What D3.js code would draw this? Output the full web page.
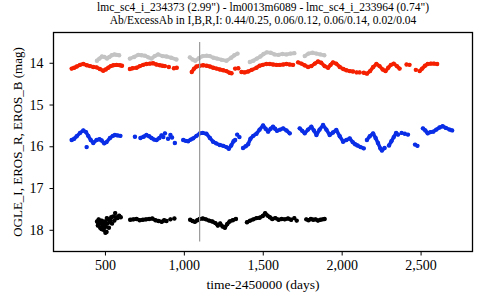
<!DOCTYPE html>
<html>
<head>
<meta charset="utf-8">
<script src="https://cdn.jsdelivr.net/npm/d3@7"></script>
<style>
  body { margin: 0; background: #fff; }
  svg { display: block; }
  text { font-family: "Liberation Serif", "DejaVu Serif", serif; fill: #000; }
</style>
</head>
<body>
<svg width="480" height="300"></svg>
<script>
// light curves, [day, mag]; null breaks a run of points
var grayPts = [
  [449,13.95],[465,13.9],[481,13.85],[497,13.86],[513,13.9],[528,13.86],[543,13.82],[560,13.8],[575,13.81],[590,13.82], null,
  [658,13.9],[685,13.86],[711,13.81],[732,13.82],[753,13.83],[775,13.87],[795,13.9],[815,13.84],[837,13.8],[865,13.84],[890,13.85],[920,13.88],[953,13.92], null,
  [1038,13.87],[1055,13.92],[1072,13.95],[1095,13.89],[1120,13.84],[1145,13.83],[1165,13.84],[1188,13.88],[1210,13.9],[1240,13.93],[1270,13.95],[1300,13.88],[1320,13.82],[1340,13.78], null,
  [1418,13.98],[1440,13.95],[1462,13.9],[1485,13.85],[1505,13.79],[1525,13.75],[1550,13.76],[1575,13.8],[1600,13.81],[1625,13.79],[1650,13.8],[1675,13.78],[1700,13.77], null,
  [1766,13.84],[1790,13.78],[1815,13.76],[1840,13.78],[1865,13.8],[1890,13.82]
];

var redPts = [
  [289,14.14],[305,14.12],[321,14.09],[342,14.05],[363,14.03],[385,14.06],[405,14.08],[426,14.1],[447,14.11],[468,14.15],[489,14.19],[505,14.16],[521,14.12],[537,14.08],[553,14.06],[574,14.05],[595,14.06],[608,14.07], null,
  [658,14.15],[675,14.13],[700,14.12],[721,14.08],[742,14.05],[763,14.03],[785,14.02],[805,14.01],[826,14.04],[848,14.06],[865,14.07],[880,14.08], null,
  [905,14.1], null, [937,14.13], null, [955,14.12], null,
  [1050,14.22],[1065,14.14],[1080,14.09],[1100,14.07],[1122,14.06],[1145,14.07],[1165,14.09],[1186,14.12],[1207,14.14],[1228,14.16],[1249,14.18],[1270,14.2],[1290,14.24],[1302,14.25], null,
  [1325,14.14], null, [1345,14.13], null,
  [1365,14.22],[1385,14.23],[1407,14.21],[1430,14.17],[1460,14.12],[1480,14.07],[1500,14.05],[1523,14.03],[1545,14.03],[1565,14.04],[1587,14.05],[1608,14.05],[1630,14.04],[1650,14.03],[1670,14.04],[1692,14.05], null,
  [1724,13.99],[1745,14.02],[1765,14.06],[1787,14.1],[1808,14.08],[1830,14.02],[1850,13.97],[1870,14.0],[1892,14.08],[1914,14.12],[1930,14.05],[1945,13.99],[1965,14.02],[1988,14.1],[2010,14.15],[2030,14.18],[2051,14.2],[2072,14.21], null,
  [2095,14.23], null, [2114,14.23], null,
  [2140,14.24],[2160,14.26],[2180,14.2],[2200,14.1],[2220,14.03],[2240,14.08],[2260,14.16],[2278,14.2],[2295,14.12],[2312,14.05],[2330,14.02],[2350,14.08],[2367,14.14], null,
  [2411,14.04], null, [2430,14.05], null, [2470,14.17], null,
  [2494,14.2],[2510,14.14],[2528,14.07],[2545,14.03],[2565,14.02],[2585,14.02],[2605,14.03]
];

var bluePts = [
  [289,15.85],[305,15.82],[321,15.76],[342,15.68],[363,15.62],[380,15.66],[394,15.75],[410,15.85],[426,15.92],[447,15.85],[465,15.83],[479,15.86],[495,15.93],[510,15.9],[532,15.8],[550,15.75],[563,15.73],[580,15.74],[598,15.75], null,
  [384,16.02], null, [690,15.77], null,
  [725,15.8],[745,15.77],[763,15.73],[780,15.76],[795,15.8],[812,15.84],[827,15.85],[845,15.8], null,
  [858,15.74], null, [870,15.78], null, [880,15.69], null, [900,15.82], null, [915,15.73], null, [925,15.79], null, [943,15.92], null,
  [996,15.85],[1012,15.87],[1027,15.88],[1043,15.84],[1059,15.81],[1080,15.75],[1101,15.69],[1120,15.68],[1143,15.7],[1165,15.8],[1185,15.89],[1205,15.93],[1228,15.97],[1250,15.99],[1270,16.02],[1285,16.06],[1300,15.98],[1315,15.88],[1325,15.85], null,
  [1338,15.72], null, [1352,15.78], null,
  [1375,16.04],[1392,16.0],[1407,15.95],[1422,15.82],[1440,15.75],[1460,15.7],[1480,15.6],[1502,15.5],[1518,15.58],[1534,15.65],[1550,15.58],[1565,15.53],[1578,15.58],[1590,15.63],[1610,15.6],[1629,15.57],[1650,15.62],[1671,15.69], null,
  [1734,15.57],[1750,15.63],[1766,15.69],[1787,15.6],[1808,15.53],[1824,15.62],[1840,15.73],[1860,15.6],[1882,15.49],[1903,15.6],[1924,15.73],[1945,15.67],[1966,15.61],[1988,15.76],[2009,15.89],[2030,15.85],[2051,15.81],[2070,15.9],[2085,15.95],[2100,15.98],[2120,16.02],[2140,16.05], null,
  [2160,15.85],[2178,15.76],[2199,15.69],[2215,15.8],[2230,15.92],[2245,16.05],[2255,16.1],[2272,16.04], null,
  [2300,15.98],[2315,15.88],[2330,15.78],[2345,15.68],[2357,15.72], null,
  [2380,15.68], null, [2400,15.7], null, [2420,15.72], null, [2465,15.96], null, [2480,15.99], null,
  [2515,15.57],[2530,15.62],[2545,15.69],[2562,15.66],[2580,15.65],[2600,15.6],[2620,15.55],[2640,15.52],[2660,15.56],[2684,15.6],[2700,15.62]
];

var blackPts = [
  [450,17.8], null, [455,17.9], null, [460,17.75], null, [465,17.85], null, [470,17.95], null, [475,17.82], null,
  [480,17.78], null, [485,17.9], null, [490,18.0], null, [495,17.88], null, [500,17.8], null, [505,17.92], null,
  [510,18.05], null, [515,17.85], null, [520,17.75], null, [525,17.95], null, [530,17.82], null, [540,17.7], null,
  [545,17.85], null, [552,17.68], null, [560,17.78], null, [565,17.6], null, [570,17.7], null, [580,17.72], null,
  [590,17.66], null, [600,17.7], null, [458,17.85], null, [478,17.98], null, [498,17.95], null, [512,17.72], null,
  [535,17.78], null, [488,17.83], null, [468,17.78], null, [503,18.07], null, [492,17.92], null, [483,17.86], null,
  [660,17.76],[680,17.75],[700,17.74],[720,17.77],[740,17.76],[760,17.75],[780,17.74],[800,17.73],[820,17.77],[840,17.79],[860,17.81],[875,17.77],[890,17.79], null,
  [915,17.75], null, [940,17.73], null,
  [1040,17.76],[1055,17.79],[1070,17.81],[1085,17.77],[1100,17.74],[1120,17.73],[1140,17.75],[1160,17.78],[1180,17.8],[1200,17.84],[1215,17.9],[1230,17.85],[1245,17.92],[1260,17.95],[1275,17.86],[1290,17.8],[1310,17.77],[1330,17.74], null,
  [1400,17.82],[1420,17.78],[1440,17.75],[1460,17.72],[1480,17.71],[1500,17.67],[1515,17.6],[1530,17.66],[1545,17.7],[1560,17.74],[1580,17.72],[1600,17.76],[1620,17.74],[1640,17.75],[1660,17.73],[1680,17.76], null,
  [1700,17.72], null, [1715,17.78], null,
  [1776,17.75],[1790,17.77],[1805,17.74],[1820,17.76],[1835,17.75],[1850,17.78],[1865,17.76],[1880,17.75],[1892,17.74]
];

var series = [
  {pts: grayPts, color: '#c3c3c3'},
  {pts: redPts, color: '#f42000'},
  {pts: bluePts, color: '#0a2ee6'},
  {pts: blackPts, color: '#000000'}
];

var markDay = 1100;
var markMags = [13.5, 18.28];

var xTicks = [500, 1000, 1500, 2000, 2500];
var yTicks = [14, 15, 16, 17, 18];
var titleLines = [
  'lmc_sc4_i_234373 (2.99") - lm0013m6089 - lmc_sc4_i_233964 (0.74")',
  'Ab/ExcessAb in I,B,R,I: 0.44/0.25, 0.06/0.12, 0.06/0.14, 0.02/0.04'
];

var svg = d3.select('svg');
var plotL = 53.5, plotR = 472.5, plotT = 32.5, plotB = 251.5;

var x = d3.scaleLinear().domain([174, 2829]).range([plotL, plotR]);
var y = d3.scaleLinear().domain([13.275, 18.52]).range([plotT, plotB]);

var line = d3.line()
  .defined(function(d) { return d !== null; })
  .x(function(d) { return x(d[0]); })
  .y(function(d) { return y(d[1]); });

series.forEach(function(s) {
  var g = svg.append('g');
  g.append('path')
    .attr('d', line(s.pts))
    .attr('fill', 'none')
    .attr('stroke', s.color)
    .attr('stroke-width', 3.6)
    .attr('stroke-linejoin', 'round')
    .attr('stroke-linecap', 'round');
  g.selectAll('circle')
    .data(s.pts.filter(function(d) { return d !== null; }))
    .enter()
    .append('circle')
    .attr('cx', function(d) { return x(d[0]); })
    .attr('cy', function(d) { return y(d[1]); })
    .attr('r', 2.2)
    .attr('fill', s.color);
});

svg.append('line')
  .attr('x1', x(markDay)).attr('x2', x(markDay))
  .attr('y1', y(markMags[0])).attr('y2', y(markMags[1]))
  .attr('stroke', '#9a9a9a')
  .attr('stroke-width', 1.2);

svg.append('rect')
  .attr('x', plotL).attr('y', plotT)
  .attr('width', plotR - plotL).attr('height', plotB - plotT)
  .attr('fill', 'none')
  .attr('stroke', '#000')
  .attr('stroke-width', 1.3);

var xAxis = svg.append('g')
  .attr('transform', 'translate(0,' + plotB + ')')
  .call(d3.axisBottom(x).tickValues(xTicks).tickFormat(d3.format(',')).tickSize(4).tickPadding(5));
var yAxis = svg.append('g')
  .attr('transform', 'translate(' + plotL + ',0)')
  .call(d3.axisLeft(y).tickValues(yTicks).tickFormat(d3.format('d')).tickSize(4).tickPadding(6));

[xAxis, yAxis].forEach(function(a) {
  a.select('.domain').remove();
  a.selectAll('line').attr('stroke', '#000');
  a.selectAll('text')
    .style('font-family', '"Liberation Serif", serif')
    .style('font-size', '14px')
    .attr('fill', '#000');
});

svg.append('text')
  .attr('x', (plotL + plotR) / 2)
  .attr('y', 289)
  .attr('text-anchor', 'middle')
  .style('font-size', '13.5px')
  .text('time-2450000 (days)');

svg.append('text')
  .attr('transform', 'translate(22,' + ((plotT + plotB) / 2) + ') rotate(-90)')
  .attr('text-anchor', 'middle')
  .style('font-size', '13px')
  .text('OGLE_I, EROS_R, EROS_B (mag)');

svg.selectAll('.title')
  .data(titleLines)
  .enter()
  .append('text')
  .attr('class', 'title')
  .attr('x', (plotL + plotR) / 2)
  .attr('y', function(d, i) { return 11 + i * 12.5; })
  .attr('text-anchor', 'middle')
  .style('font-size', '11.5px')
  .text(function(d) { return d; });
</script>
</body>
</html>
